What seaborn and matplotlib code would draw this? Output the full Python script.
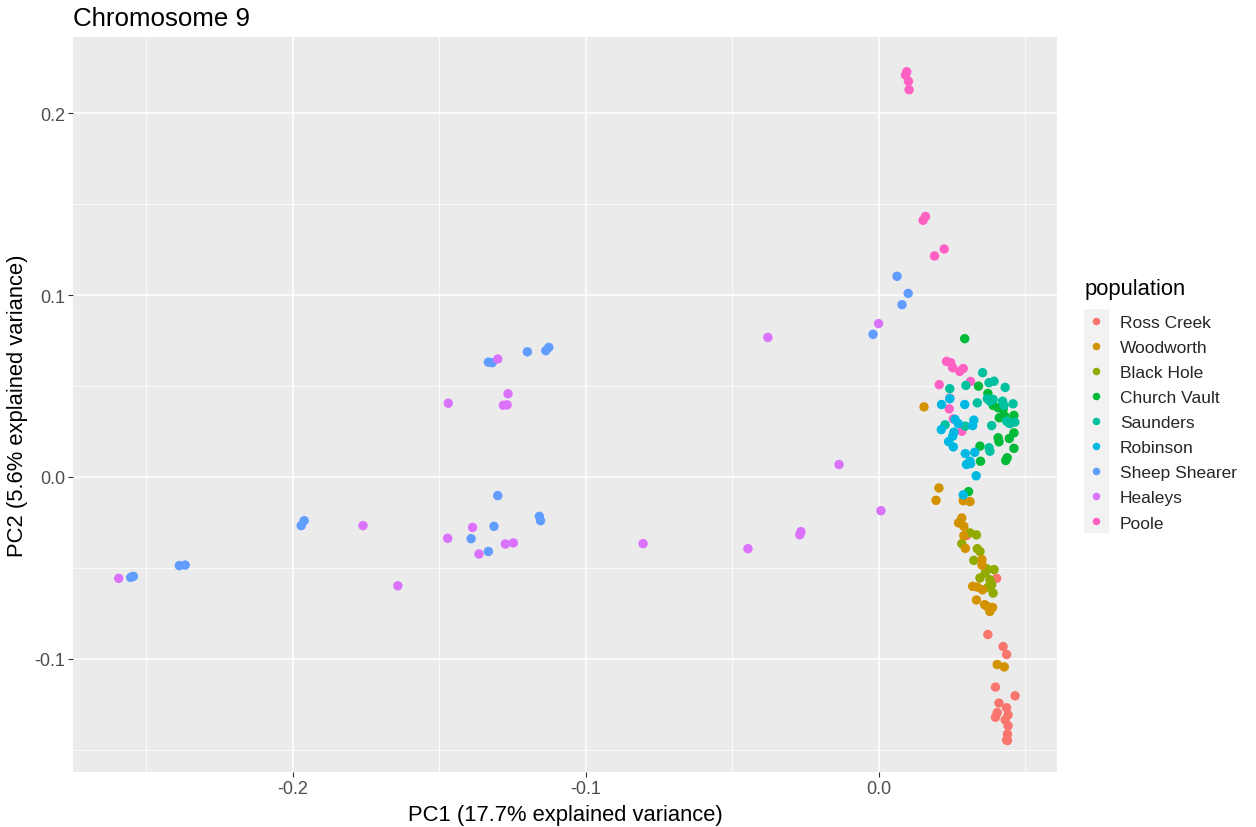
import numpy as np
import pandas as pd
import matplotlib
matplotlib.use("Agg")
import matplotlib.pyplot as plt
import seaborn as sns
from matplotlib.patches import Rectangle
from matplotlib.ticker import FixedLocator, StrMethodFormatter

# PCA scores per sample (PC1, PC2), grouped by population
ross_creek_pc1 = [0.0373, 0.0425, 0.0437, 0.0399, 0.0466, 0.0411, 0.0437, 0.0405, 0.0442,
                  0.0399, 0.0432, 0.0442, 0.0440, 0.0437, 0.0440, 0.0403, 0.0300]
ross_creek_pc2 = [-0.0867, -0.0933, -0.0977, -0.1156, -0.1204, -0.1244, -0.1270, -0.1296, -0.1309,
                  -0.1322, -0.1336, -0.1369, -0.1415, -0.1447, -0.1450, -0.0558, -0.0323]

woodworth_pc1 = [0.0155, 0.0206, 0.0196, 0.0289, 0.0312, 0.0284, 0.0273, 0.0291, 0.0291, 0.0296,
                 0.0353, 0.0353, 0.0321, 0.0337, 0.0355, 0.0334, 0.0362, 0.0371, 0.0389, 0.0380,
                 0.0405, 0.0429]
woodworth_pc2 = [0.0385, -0.0061, -0.0129, -0.0131, -0.0136, -0.0226, -0.0253, -0.0272, -0.0323,
                 -0.0393, -0.0455, -0.0485, -0.0602, -0.0606, -0.0621, -0.0677, -0.0703, -0.0713,
                 -0.0718, -0.0740, -0.1032, -0.1045]

black_hole_pc1 = [0.0312, 0.0334, 0.0284, 0.0337, 0.0346, 0.0325, 0.0369, 0.0394, 0.0364,
                  0.0346, 0.0380, 0.0386, 0.0374, 0.0391]
black_hole_pc2 = [-0.0308, -0.0319, -0.0367, -0.0395, -0.0410, -0.0459, -0.0505, -0.0510, -0.0529,
                  -0.0556, -0.0566, -0.0593, -0.0606, -0.0639]

church_vault_pc1 = [0.0294, 0.0341, 0.0373, 0.0391, 0.0408, 0.0425, 0.0412, 0.0431, 0.0462, 0.0448,
                    0.0462, 0.0408, 0.0411, 0.0446, 0.0462, 0.0346, 0.0348, 0.0439, 0.0434, 0.0307]
church_vault_pc2 = [0.0760, 0.0499, 0.0459, 0.0393, 0.0380, 0.0371, 0.0325, 0.0334, 0.0338, 0.0297,
                    0.0242, 0.0215, 0.0193, 0.0211, 0.0157, 0.0169, 0.0086, 0.0105, 0.0090, -0.0081]

saunders_pc1 = [0.0355, 0.0377, 0.0394, 0.0432, 0.0298, 0.0243, 0.0337, 0.0371, 0.0391, 0.0380,
                0.0423, 0.0428, 0.0459, 0.0437, 0.0448, 0.0465, 0.0386, 0.0227, 0.0296, 0.0377,
                0.0380]
saunders_pc2 = [0.0573, 0.0518, 0.0526, 0.0492, 0.0503, 0.0485, 0.0407, 0.0430, 0.0426, 0.0416,
                0.0416, 0.0393, 0.0402, 0.0306, 0.0293, 0.0301, 0.0282, 0.0286, 0.0279, 0.0160,
                0.0141]

robinson_pc1 = [0.0243, 0.0215, 0.0294, 0.0261, 0.0272, 0.0325, 0.0321, 0.0214, 0.0257, 0.0253,
                0.0239, 0.0255, 0.0296, 0.0328, 0.0312, 0.0300, 0.0314, 0.0333, 0.0289]
robinson_pc2 = [0.0430, 0.0398, 0.0398, 0.0316, 0.0293, 0.0312, 0.0282, 0.0260, 0.0246, 0.0224,
                0.0194, 0.0165, 0.0128, 0.0135, 0.0086, 0.0068, 0.0073, 0.0006, -0.0099]

sheep_shearer_pc1 = [-0.2553, -0.2544, -0.2387, -0.2367, -0.1961, -0.1971, -0.1300, -0.1313,
                     -0.1391, -0.1158, -0.1154, -0.1332, -0.1332, -0.1319, -0.1199, -0.1136,
                     -0.1126, 0.0063, 0.0101, 0.0080, -0.0019]
sheep_shearer_pc2 = [-0.0553, -0.0547, -0.0488, -0.0485, -0.0241, -0.0268, -0.0103, -0.0272,
                     -0.0340, -0.0217, -0.0241, -0.0410, 0.0631, 0.0628, 0.0688, 0.0694,
                     0.0712, 0.1103, 0.1009, 0.0947, 0.0784]

healeys_pc1 = [-0.2594, -0.1386, -0.1471, -0.1274, -0.1247, -0.1364, -0.1300, -0.1265, -0.1281,
               -0.1268, -0.1469, -0.1760, -0.1641, -0.0804, -0.0446, -0.0269, -0.0265, -0.0135,
               0.0008, -0.0378, 0.0000]
healeys_pc2 = [-0.0558, -0.0278, -0.0338, -0.0369, -0.0363, -0.0424, 0.0648, 0.0457, 0.0394,
               0.0396, 0.0405, -0.0268, -0.0599, -0.0367, -0.0395, -0.0318, -0.0301, 0.0068,
               -0.0186, 0.0767, 0.0843]

poole_pc1 = [0.0096, 0.0092, 0.0102, 0.0104, 0.0160, 0.0152, 0.0224, 0.0191, 0.0232, 0.0246,
             0.0253, 0.0277, 0.0289, 0.0314, 0.0207, 0.0243, 0.0241, 0.0255, 0.0284]
poole_pc2 = [0.2228, 0.2210, 0.2175, 0.2129, 0.1432, 0.1411, 0.1253, 0.1215, 0.0635, 0.0628,
             0.0600, 0.0580, 0.0596, 0.0525, 0.0507, 0.0433, 0.0374, 0.0319, 0.0251]

populations = ["Ross Creek", "Woodworth", "Black Hole", "Church Vault", "Saunders",
               "Robinson", "Sheep Shearer", "Healeys", "Poole"]
palette = ["#F8766D", "#D39200", "#93AA00", "#00BA38", "#00C19F",
           "#00B9E3", "#619CFF", "#DB72FB", "#FF61C3"]

groups = {
    "Poole": (poole_pc1, poole_pc2),
    "Ross Creek": (ross_creek_pc1, ross_creek_pc2),
    "Black Hole": (black_hole_pc1, black_hole_pc2),
    "Woodworth": (woodworth_pc1, woodworth_pc2),
    "Church Vault": (church_vault_pc1, church_vault_pc2),
    "Saunders": (saunders_pc1, saunders_pc2),
    "Robinson": (robinson_pc1, robinson_pc2),
    "Sheep Shearer": (sheep_shearer_pc1, sheep_shearer_pc2),
    "Healeys": (healeys_pc1, healeys_pc2),
}
df = pd.concat(
    [pd.DataFrame({"PC1": xs, "PC2": ys, "population": name}) for name, (xs, ys) in groups.items()],
    ignore_index=True,
)

sns.set_theme(style="darkgrid")
plt.rcParams["font.family"] = ["Liberation Sans", "DejaVu Sans"]
plt.rcParams["axes.unicode_minus"] = False

W, H = 1256, 828
fig = plt.figure(figsize=(W / 100, H / 100), dpi=100)
fig.patch.set_facecolor("white")
ax = fig.add_axes([73 / W, 1 - 773 / H, (1057 - 73) / W, (773 - 38) / H])
ax.set_facecolor("#EBEBEB")

sns.scatterplot(data=df, x="PC1", y="PC2", hue="population", hue_order=populations,
                palette=palette, s=46, linewidth=0, alpha=1, ax=ax, legend=True, zorder=3)

ax.set_xlim(-0.2750, 0.0609)
ax.set_ylim(-0.1623, 0.2419)

ax.xaxis.set_major_locator(FixedLocator([-0.2, -0.1, 0.0]))
ax.xaxis.set_minor_locator(FixedLocator([-0.25, -0.15, -0.05, 0.05]))
ax.yaxis.set_major_locator(FixedLocator([-0.1, 0.0, 0.1, 0.2]))
ax.yaxis.set_minor_locator(FixedLocator([-0.15, -0.05, 0.05, 0.15]))
ax.xaxis.set_major_formatter(StrMethodFormatter("{x:.1f}"))
ax.yaxis.set_major_formatter(StrMethodFormatter("{x:.1f}"))

ax.grid(which="major", color="white", linewidth=1.1)
ax.grid(which="minor", color="white", linewidth=0.55)
ax.set_axisbelow(True)
for sp in ax.spines.values():
    sp.set_visible(False)

ax.tick_params(axis="both", which="major", length=3.5, width=0.8, color="#333333",
               labelsize=13, labelcolor="#4D4D4D", pad=2, bottom=True, left=True)
ax.tick_params(axis="both", which="minor", length=0)

ax.set_xlabel("PC1 (17.7% explained variance)", fontsize=15.8, color="black", labelpad=5)
ax.set_ylabel("PC2 (5.6% explained variance)", fontsize=15.8, color="black", labelpad=5)
ax.set_title("Chromosome 9", loc="left", fontsize=18.6, color="black", pad=9)

handles, labels = ax.get_legend_handles_labels()
ax.get_legend().remove()

# legend title and key background
fig.text(1085 / W, 1 - 290 / H, "population", fontsize=15.8, color="black",
         ha="left", va="center")
fig.patches.append(Rectangle((1084 / W, 1 - 534 / H), 25 / W, 224 / H,
                             transform=fig.transFigure, facecolor="#F2F2F2",
                             edgecolor="none", zorder=0))
leg = fig.legend(handles, labels, loc="upper left", bbox_to_anchor=(1086 / W, 1 - 316 / H),
                 frameon=False, fontsize=12.5,
                 handlelength=1.2, handletextpad=0.75, labelspacing=0.57, borderaxespad=0,
                 borderpad=0, markerscale=0.8)

fig.savefig("out.png", dpi=100, facecolor="white")
